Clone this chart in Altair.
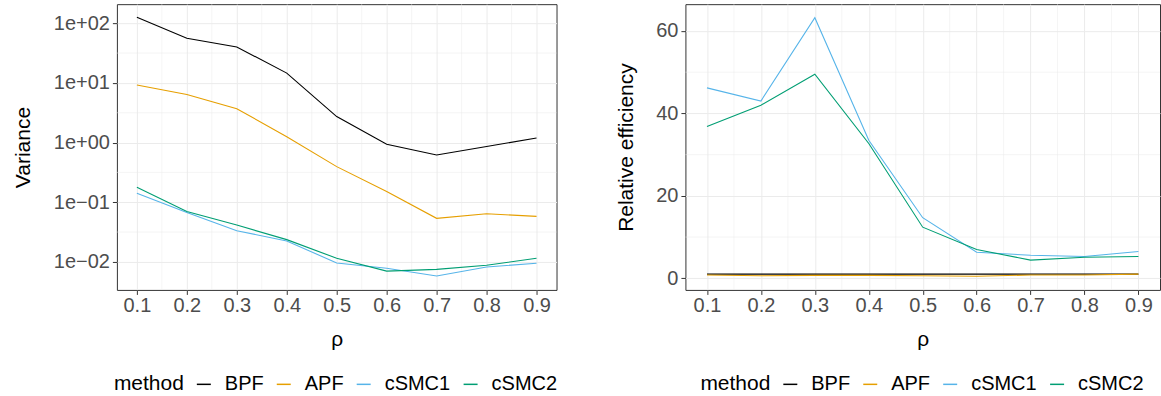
import altair as alt
import pandas as pd
import math

rho = [0.1, 0.2, 0.3, 0.4, 0.5, 0.6, 0.7, 0.8, 0.9]
methods = ["BPF", "APF", "cSMC1", "cSMC2"]
colors = ["#000000", "#E69F00", "#56B4E9", "#009E73"]

var_bpf = [126, 56, 40, 14.6, 2.73, 0.94, 0.62, 0.86, 1.19]
var_apf = [9.2, 6.4, 3.7, 1.25, 0.395, 0.151, 0.0537, 0.064, 0.058]
var_csmc1 = [0.142, 0.0675, 0.0333, 0.0224, 0.0096, 0.0078, 0.0058, 0.0082, 0.0095]
var_csmc2 = [0.179, 0.070, 0.0414, 0.0236, 0.0115, 0.0070, 0.0075, 0.0088, 0.0115]

eff_bpf = [1, 1, 1, 1, 1, 1, 1, 1, 1]
eff_apf = [0.8, 0.6, 0.7, 0.7, 0.6, 0.5, 0.8, 0.8, 1.0]
eff_csmc1 = [46.2, 43.0, 63.2, 33.5, 14.7, 6.3, 5.6, 5.3, 6.5]
eff_csmc2 = [36.8, 42.0, 49.5, 32.7, 12.4, 7.0, 4.4, 5.1, 5.3]

x_ticks = [0.1, 0.2, 0.3, 0.4, 0.5, 0.6, 0.7, 0.8, 0.9]
x_minor = [0.15, 0.25, 0.35, 0.45, 0.55, 0.65, 0.75, 0.85]
yl_ticks = [0.01, 0.1, 1, 10, 100]
yl_labels = ["1e\u221202", "1e\u221201", "1e+00", "1e+01", "1e+02"]
yl_minor = [10 ** -1.5, 10 ** -0.5, 10 ** 0.5, 10 ** 1.5]
yr_ticks = [0, 20, 40, 60]
yr_minor = [10, 30, 50]

rows = []
for m, v, e in zip(methods, [var_bpf, var_apf, var_csmc1, var_csmc2],
                   [eff_bpf, eff_apf, eff_csmc1, eff_csmc2]):
    for r, vv, ee in zip(rho, v, e):
        rows.append({"method": m, "rho": r, "variance": vv, "efficiency": ee})
df = pd.DataFrame(rows)

FONT = "Liberation Sans"
GRID = "#EBEBEB"

parts = []
for t, lab in zip(yl_ticks, yl_labels):
    parts.append(f"abs(log(datum.value)/LN10 - ({round(math.log10(t))})) < 0.01 ? '{lab}'")
label_expr = " : ".join(parts) + " : ''"

x_scale = alt.Scale(domain=[0.06, 0.94], nice=False, zero=False)
x_axis = alt.Axis(values=x_ticks, format=".1f", title="\u03c1", grid=True,
                  titlePadding=12.5, labelPadding=1.5)

H = 286


def legend(lx):
    return alt.Legend(orient="none", direction="horizontal",
                      legendX=lx, legendY=370.5, title="method")


# ---------- left panel ----------
yl_scale = alt.Scale(type="log", domain=[10 ** -2.47, 10 ** 2.32], nice=False)
yl_axis = alt.Axis(values=yl_ticks, labelExpr=label_expr, title="Variance",
                   grid=True, titlePadding=20)
minor_xl = alt.Chart(pd.DataFrame({"v": x_minor})).mark_rule(
    color=GRID, strokeWidth=0.5).encode(x=alt.X("v:Q", scale=x_scale, axis=x_axis))
minor_yl = alt.Chart(pd.DataFrame({"v": yl_minor})).mark_rule(
    color=GRID, strokeWidth=0.5).encode(y=alt.Y("v:Q", scale=yl_scale, axis=yl_axis))
lines_l = alt.Chart(df).mark_line(strokeWidth=1.1).encode(
    x=alt.X("rho:Q", scale=x_scale, axis=x_axis),
    y=alt.Y("variance:Q", scale=yl_scale, axis=yl_axis),
    color=alt.Color("method:N", sort=methods,
                    scale=alt.Scale(domain=methods, range=colors),
                    legend=legend(-3)),
    detail="method:N",
)
left = alt.layer(minor_xl, minor_yl, lines_l).properties(width=440, height=H)

# ---------- right panel ----------
yr_scale = alt.Scale(domain=[-2.82, 66.5], nice=False, zero=False)
yr_axis = alt.Axis(values=yr_ticks, title="Relative efficiency",
                   grid=True, titlePadding=19)
minor_xr = alt.Chart(pd.DataFrame({"v": x_minor})).mark_rule(
    color=GRID, strokeWidth=0.5).encode(x=alt.X("v:Q", scale=x_scale, axis=x_axis))
minor_yr = alt.Chart(pd.DataFrame({"v": yr_minor})).mark_rule(
    color=GRID, strokeWidth=0.5).encode(y=alt.Y("v:Q", scale=yr_scale, axis=yr_axis))
lines_r = alt.Chart(df).mark_line(strokeWidth=1.1).encode(
    x=alt.X("rho:Q", scale=x_scale, axis=x_axis),
    y=alt.Y("efficiency:Q", scale=yr_scale, axis=yr_axis),
    color=alt.Color("method:N", sort=methods,
                    scale=alt.Scale(domain=methods, range=colors),
                    legend=legend(15)),
    detail="method:N",
)
right = alt.layer(minor_xr, minor_yr, lines_r).properties(width=475, height=H)

chart = alt.hconcat(left, right, spacing=129, bounds="flush").resolve_scale(
    x="independent", y="independent", color="independent"
).resolve_legend(color="independent").properties(
    padding={"left": 11, "top": 3, "right": 0, "bottom": 0}
).configure(
    font=FONT,
).configure_view(
    stroke="#333333", strokeWidth=1
).configure_axis(
    labelFont=FONT, titleFont=FONT, labelFontSize=20, titleFontSize=21,
    labelColor="#4D4D4D", titleColor="#000000", titleFontWeight="normal",
    gridColor=GRID, gridWidth=1, domain=False,
    tickColor="#333333", tickSize=4.5, tickWidth=1, labelPadding=3,
    labelFlush=False, labelOverlap=False,
).configure_legend(
    labelFont=FONT, titleFont=FONT, labelFontSize=20, titleFontSize=21,
    titleFontWeight="normal", labelColor="#000000", titleColor="#000000",
    titleOrient="left", symbolType="stroke", symbolSize=196,
    symbolStrokeWidth=1.5, columnPadding=10, labelOffset=11, titlePadding=9,
    titleBaseline="middle", titleAnchor="middle", labelLimit=0,
    padding=0, symbolOffset=0, rowPadding=0,
)

chart.save("out.html", embed_options={"renderer": "svg", "actions": False})
